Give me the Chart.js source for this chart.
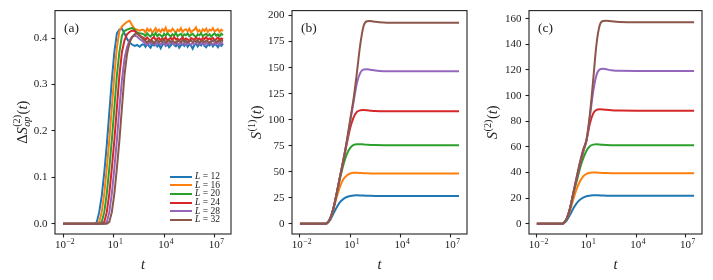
<!DOCTYPE html>
<html>
<head>
<meta charset="utf-8">
<script src="https://cdn.jsdelivr.net/npm/chart.js@4.4.0/dist/chart.umd.min.js"></script>
<style>
  html, body { margin: 0; padding: 0; background: #fff; }
  #wrap { position: relative; width: 713px; height: 280px; overflow: hidden; }
  #wrap canvas { position: absolute; top: 0; }
  .legend { position: absolute; left: 170px; top: 172px; font-family: "Liberation Serif", serif; font-size: 9.5px; color: #222; }
  .legend .row { position: relative; height: 8.7px; width: 62px; }
  .legend .swatch { position: absolute; left: 0; top: 3.6px; width: 22px; height: 2px; }
  .legend .lbl { position: absolute; left: 25px; top: -1px; white-space: nowrap; line-height: 10px; }
</style>
</head>
<body>
<div id="wrap">
  <canvas id="panelA" width="240" height="280" style="left:0px"></canvas>
  <canvas id="panelB" width="234" height="280" style="left:240px"></canvas>
  <canvas id="panelC" width="237" height="280" style="left:476px"></canvas>
  <div class="legend" id="legendA"></div>
</div>
<script>
// ---- data ----
const systemSizes = [12, 16, 20, 24, 28, 32];
const seriesColors = ['#1f77b4', '#ff7f0e', '#2ca02c', '#d62728', '#9467bd', '#8c564b'];
const xTickExps = [-2, 1, 4, 7];
const yTicksA = [0, 0.1, 0.2, 0.3, 0.4];
const yTicksB = [0, 25, 50, 75, 100, 125, 150, 175, 200];
const yTicksC = [0, 20, 40, 60, 80, 100, 120, 140, 160];

// panel (a): log10(t) sample positions (rise, then the noisy plateau)
const logTimeA = [-2, -1, -0.3, -0.15, 0, 0.15, 0.3, 0.45, 0.6, 0.75, 0.9, 1.05, 1.2, 1.35, 1.5, 1.65, 1.8, 1.95, 2.1, 2.25, 2.4, 2.55, 2.7,
  2.8, 2.9, 3.0, 3.1, 3.2, 3.3, 3.4, 3.5, 3.6, 3.7, 3.8, 3.9, 4.0, 4.1, 4.2, 4.3, 4.4, 4.5, 4.6, 4.7, 4.8, 4.9, 5.0, 5.1, 5.2, 5.3, 5.4, 5.5,
  5.6, 5.7, 5.8, 5.9, 6.0, 6.1, 6.2, 6.3, 6.4, 6.5, 6.6, 6.7, 6.8, 6.9, 7.0, 7.1, 7.2, 7.3, 7.4, 7.5];
const dSopL12 = [0, 0, 0, 0, 0.003, 0.025, 0.06, 0.11, 0.17, 0.24, 0.31, 0.37, 0.41, 0.418, 0.42, 0.41, 0.398, 0.39, 0.386, 0.383, 0.385, 0.381, 0.386,
  0.386, 0.381, 0.388, 0.383, 0.379, 0.387, 0.384, 0.390, 0.382, 0.386, 0.378, 0.385, 0.389, 0.383, 0.387, 0.380, 0.384, 0.391, 0.385, 0.382, 0.388, 0.379, 0.384, 0.387,
  0.383, 0.389, 0.381, 0.386, 0.384, 0.377, 0.385, 0.388, 0.382, 0.387, 0.384, 0.390, 0.383, 0.380, 0.386, 0.384, 0.389, 0.382, 0.387, 0.385, 0.380, 0.386, 0.383, 0.388];
const dSopL16 = [0, 0, 0, 0, 0, 0.004, 0.025, 0.065, 0.12, 0.18, 0.25, 0.32, 0.38, 0.415, 0.425, 0.43, 0.435, 0.437, 0.428, 0.42, 0.418, 0.416, 0.418,
  0.417, 0.412, 0.420, 0.415, 0.419, 0.411, 0.416, 0.421, 0.414, 0.418, 0.413, 0.419, 0.415, 0.422, 0.412, 0.417, 0.414, 0.420, 0.416, 0.411, 0.418, 0.415, 0.421, 0.413,
  0.417, 0.419, 0.414, 0.420, 0.412, 0.416, 0.418, 0.423, 0.414, 0.417, 0.411, 0.419, 0.415, 0.420, 0.413, 0.418, 0.416, 0.421, 0.414, 0.417, 0.419, 0.413, 0.418, 0.415];
const dSopL20 = [0, 0, 0, 0, 0, 0, 0.004, 0.025, 0.065, 0.12, 0.18, 0.25, 0.32, 0.37, 0.405, 0.415, 0.418, 0.42, 0.422, 0.418, 0.412, 0.41, 0.409,
  0.408, 0.404, 0.410, 0.406, 0.403, 0.409, 0.405, 0.411, 0.404, 0.408, 0.406, 0.402, 0.409, 0.405, 0.410, 0.407, 0.403, 0.408, 0.405, 0.411, 0.404, 0.407, 0.409, 0.403,
  0.408, 0.406, 0.410, 0.404, 0.407, 0.409, 0.405, 0.402, 0.408, 0.406, 0.410, 0.404, 0.407, 0.409, 0.405, 0.408, 0.403, 0.407, 0.410, 0.405, 0.408, 0.404, 0.409, 0.406];
const dSopL24 = [0, 0, 0, 0, 0, 0, 0, 0.004, 0.025, 0.065, 0.12, 0.18, 0.25, 0.32, 0.37, 0.395, 0.408, 0.413, 0.416, 0.415, 0.41, 0.405, 0.402,
  0.400, 0.396, 0.401, 0.397, 0.394, 0.399, 0.402, 0.396, 0.398, 0.400, 0.395, 0.399, 0.397, 0.401, 0.394, 0.398, 0.400, 0.396, 0.402, 0.397, 0.399, 0.395, 0.398, 0.401,
  0.396, 0.399, 0.397, 0.393, 0.400, 0.398, 0.396, 0.401, 0.397, 0.399, 0.395, 0.400, 0.398, 0.402, 0.396, 0.399, 0.397, 0.400, 0.395, 0.398, 0.401, 0.396, 0.399, 0.397];
const dSopL28 = [0, 0, 0, 0, 0, 0, 0, 0, 0.004, 0.025, 0.065, 0.12, 0.18, 0.25, 0.31, 0.355, 0.38, 0.395, 0.402, 0.405, 0.403, 0.398, 0.394,
  0.391, 0.388, 0.386, 0.390, 0.387, 0.392, 0.388, 0.385, 0.390, 0.389, 0.386, 0.391, 0.388, 0.384, 0.390, 0.387, 0.392, 0.389, 0.386, 0.390, 0.388, 0.385, 0.391, 0.387,
  0.389, 0.386, 0.392, 0.388, 0.385, 0.390, 0.387, 0.389, 0.391, 0.386, 0.388, 0.390, 0.385, 0.389, 0.387, 0.391, 0.388, 0.386, 0.390, 0.387, 0.389, 0.385, 0.390, 0.388];
const dSopL32 = [0, 0, 0, 0, 0, 0, 0, 0, 0, 0.004, 0.025, 0.065, 0.12, 0.18, 0.25, 0.32, 0.365, 0.39, 0.402, 0.408, 0.41, 0.405, 0.4,
  0.396, 0.393, 0.390, 0.395, 0.392, 0.394, 0.389, 0.393, 0.396, 0.391, 0.394, 0.392, 0.397, 0.390, 0.393, 0.395, 0.391, 0.394, 0.392, 0.389, 0.395, 0.393, 0.391, 0.396,
  0.392, 0.394, 0.390, 0.393, 0.395, 0.391, 0.394, 0.392, 0.396, 0.390, 0.393, 0.395, 0.391, 0.394, 0.392, 0.389, 0.394, 0.393, 0.396, 0.391, 0.394, 0.392, 0.395, 0.393];

// panels (b) and (c): log10(t) sample positions
const logTimeBC = [-2, -1, -0.5, -0.4, -0.2, 0, 0.2, 0.4, 0.6, 0.8, 1.0, 1.2, 1.4, 1.6, 1.8, 2.0, 2.2, 2.5, 3, 4, 5, 6, 7, 7.5];
const s1L12 = [0, 0, 0, 0.3, 3.5, 10, 16, 21, 24, 25.8, 26.8, 27.3, 27.4, 27.3, 27.1, 27, 26.9, 26.8, 26.7, 26.7, 26.7, 26.7, 26.7, 26.7];
const s1L16 = [0, 0, 0, 0.4, 4.5, 14, 26, 36, 43, 46.5, 48.3, 49, 49, 48.8, 48.6, 48.5, 48.4, 48.3, 48.3, 48.3, 48.3, 48.3, 48.3, 48.3];
const s1L20 = [0, 0, 0, 0.5, 5, 15, 29, 44, 57, 67, 73, 75.8, 76.5, 76.5, 76.2, 76, 75.8, 75.6, 75.5, 75.5, 75.5, 75.5, 75.5, 75.5];
const s1L24 = [0, 0, 0, 0.5, 5, 15, 30, 46, 61, 77, 92, 102, 107.5, 109, 109.2, 109, 108.7, 108.3, 108, 108, 108, 108, 108, 108];
const s1L28 = [0, 0, 0, 0.5, 5, 15, 30, 46, 62, 79, 98, 117, 135, 145, 148.3, 148.5, 148, 147.2, 146.6, 146.5, 146.5, 146.5, 146.5, 146.5];
const s1L32 = [0, 0, 0, 0.5, 5, 15, 30, 46, 62, 80, 100, 120, 145, 172, 190, 194.5, 194.8, 194, 193.3, 193, 193, 193, 193, 193];

const s2L12 = [0, 0, 0, 0.2, 2.5, 7, 12, 16, 18.8, 20.5, 21.5, 22, 22.3, 22.3, 22.2, 22.1, 22, 22, 22, 22, 22, 22, 22, 22];
const s2L16 = [0, 0, 0, 0.3, 3.5, 10, 19, 27, 33, 37, 39, 39.8, 40, 40, 39.8, 39.7, 39.6, 39.5, 39.5, 39.5, 39.5, 39.5, 39.5, 39.5];
const s2L20 = [0, 0, 0, 0.4, 4, 12, 23, 33, 43, 51, 57, 60.5, 61.8, 62, 61.8, 61.6, 61.5, 61.4, 61.3, 61.3, 61.3, 61.3, 61.3, 61.3];
const s2L24 = [0, 0, 0, 0.4, 4, 12, 24, 35, 46, 56, 65, 78, 86, 88.8, 89.3, 89.2, 88.9, 88.6, 88.4, 88.3, 88.3, 88.3, 88.3, 88.3];
const s2L28 = [0, 0, 0, 0.4, 4, 12, 24, 36, 47, 57, 65, 83, 103, 116, 120.5, 121, 120.5, 119.8, 119.3, 119.2, 119.2, 119.2, 119.2, 119.2];
const s2L32 = [0, 0, 0, 0.4, 4, 12, 24, 36, 48, 58, 66, 85, 112, 140, 155, 158.2, 158.4, 158, 157.5, 157.2, 157.2, 157.2, 157.2, 157.2];

// ---- drawing helpers ----
const FONT = '"Liberation Serif", "DejaVu Serif", serif';
const INK = '#222';
const TICK_SIZE = 11;
const LABEL_SIZE = 14.5;
const fontOf = (sz, it) => (it ? 'italic ' : '') + sz + 'px ' + FONT;

// draws a short formula centred on (cx, cy); parts may be italic, superscript or a sup/sub stack
function drawRich(ctx, parts, cx, cy, sz) {
    const small = sz * 0.7;
    const widths = parts.map(p => {
        if (p.stack) {
            ctx.font = fontOf(small, false);
            const a = ctx.measureText(p.sup).width;
            ctx.font = fontOf(small, true);
            const b = ctx.measureText(p.sub).width;
            return Math.max(a, b) + 1;
        }
        ctx.font = fontOf(p.sup ? small : sz, p.it);
        return ctx.measureText(p.t).width + (p.sup ? 1 : 0);
    });
    const total = widths.reduce((s, w) => s + w, 0);
    let x = cx - total / 2;
    const base = cy + sz * 0.33;
    ctx.fillStyle = INK;
    ctx.textAlign = 'left';
    ctx.textBaseline = 'alphabetic';
    parts.forEach((p, i) => {
        if (p.stack) {
            ctx.font = fontOf(small, false);
            ctx.fillText(p.sup, x + 0.5, base - sz * 0.45);
            ctx.font = fontOf(small, true);
            ctx.fillText(p.sub, x + 0.5, base + sz * 0.25);
        } else if (p.sup) {
            ctx.font = fontOf(small, false);
            ctx.fillText(p.t, x + 0.5, base - sz * 0.42);
        } else {
            ctx.font = fontOf(sz, p.it);
            ctx.fillText(p.t, x, base);
        }
        x += widths[i];
    });
}

const titlesPlugin = {
    id: 'panelDecor',
    afterDraw(chart, args, opts) {
        const ctx = chart.ctx;
        const area = chart.chartArea;
        ctx.save();
        // frame on all four sides
        ctx.strokeStyle = INK;
        ctx.lineWidth = 1.1;
        ctx.strokeRect(area.left, area.top, area.right - area.left, area.bottom - area.top);

        // x tick labels 10^k
        const xs = chart.scales.x;
        xTickExps.forEach(e => {
            const px = xs.getPixelForValue(Math.pow(10, e));
            const exp = e < 0 ? '\u2212' + (-e) : String(e);
            drawRich(ctx, [{ t: '10' }, { t: exp, sup: true }], px + 2, 244.5, TICK_SIZE);
        });

        // x title
        drawRich(ctx, [{ t: 't', it: true }], (area.left + area.right) / 2, 264, LABEL_SIZE);

        // y title, rotated
        ctx.save();
        ctx.translate(opts.yTitleX, (area.top + area.bottom) / 2);
        ctx.rotate(-Math.PI / 2);
        drawRich(ctx, opts.yTitle, 0, 0, LABEL_SIZE);
        ctx.restore();

        // panel tag
        ctx.font = fontOf(13.5, false);
        ctx.fillStyle = INK;
        ctx.textAlign = 'left';
        ctx.textBaseline = 'middle';
        ctx.fillText(opts.tag, area.left + 9, area.top + 18);
        ctx.restore();
    }
};

function makePanel(id, logTimes, series, yMin, yMax, yTicks, fmt, yAxisWidth, padRight, smooth, decor) {
    const datasets = series.map((vals, i) => ({
        label: 'L = ' + systemSizes[i],
        data: logTimes.map((e, k) => ({ x: Math.pow(10, e), y: vals[k] })),
        borderColor: seriesColors[i],
        borderWidth: 2,
        pointRadius: 0,
        fill: false,
        tension: 0,
        cubicInterpolationMode: smooth ? 'monotone' : 'default',
        order: series.length - i // last series drawn on top, like the original
    }));

    return new Chart(document.getElementById(id), {
        type: 'line',
        data: { datasets },
        options: {
            responsive: false,
            devicePixelRatio: 1,
            animation: false,
            layout: { padding: { top: 9, right: padRight, left: 0, bottom: 0 } },
            plugins: { legend: { display: false }, tooltip: { enabled: false }, panelDecor: decor },
            scales: {
                x: {
                    type: 'logarithmic',
                    min: Math.pow(10, -2.475),
                    max: Math.pow(10, 7.975),
                    afterBuildTicks: s => { s.ticks = xTickExps.map(e => ({ value: Math.pow(10, e) })); },
                    afterFit: s => { s.height = 46; },
                    border: { display: false },
                    grid: { drawOnChartArea: false, drawTicks: true, tickLength: 3.5, tickColor: INK, tickWidth: 1.1 },
                    ticks: { autoSkip: false, maxRotation: 0, callback: () => '' }
                },
                y: {
                    type: 'linear',
                    min: yMin,
                    max: yMax,
                    afterBuildTicks: s => { s.ticks = yTicks.map(v => ({ value: v })); },
                    afterFit: s => { s.width = yAxisWidth; },
                    border: { display: false },
                    grid: { drawOnChartArea: false, drawTicks: true, tickLength: 3.5, tickColor: INK, tickWidth: 1.1 },
                    ticks: {
                        autoSkip: false,
                        padding: 4,
                        color: INK,
                        font: { family: FONT, size: TICK_SIZE },
                        callback: v => fmt(v)
                    }
                }
            }
        },
        plugins: [titlesPlugin]
    });
}

makePanel('panelA', logTimeA, [dSopL12, dSopL16, dSopL20, dSopL24, dSopL28, dSopL32],
    -0.022, 0.459, yTicksA, v => v.toFixed(1), 55, 9, false,
    { tag: '(a)', yTitleX: 22, yTitle: [{ t: '\u0394' }, { t: 'S', it: true }, { stack: true, sup: '(2)', sub: 'op' }, { t: '(' }, { t: 't', it: true }, { t: ')' }] });

makePanel('panelB', logTimeBC, [s1L12, s1L16, s1L20, s1L24, s1L28, s1L32],
    -9.75, 204.75, yTicksB, v => String(v), 52, 7, true,
    { tag: '(b)', yTitleX: 16, yTitle: [{ t: 'S', it: true }, { t: '(1)', sup: true }, { t: '(' }, { t: 't', it: true }, { t: ')' }] });

makePanel('panelC', logTimeBC, [s2L12, s2L16, s2L20, s2L24, s2L28, s2L32],
    -7.9, 166.3, yTicksC, v => String(v), 53, 11, true,
    { tag: '(c)', yTitleX: 16, yTitle: [{ t: 'S', it: true }, { t: '(2)', sup: true }, { t: '(' }, { t: 't', it: true }, { t: ')' }] });

// legend for panel (a), as HTML text
const legendBox = document.getElementById('legendA');
systemSizes.forEach((L, i) => {
    const row = document.createElement('div');
    row.className = 'row';
    row.innerHTML = '<span class="swatch" style="background:' + seriesColors[i] + '"></span>' +
        '<span class="lbl"><i>L</i> = ' + L + '</span>';
    legendBox.appendChild(row);
});
</script>
</body>
</html>
